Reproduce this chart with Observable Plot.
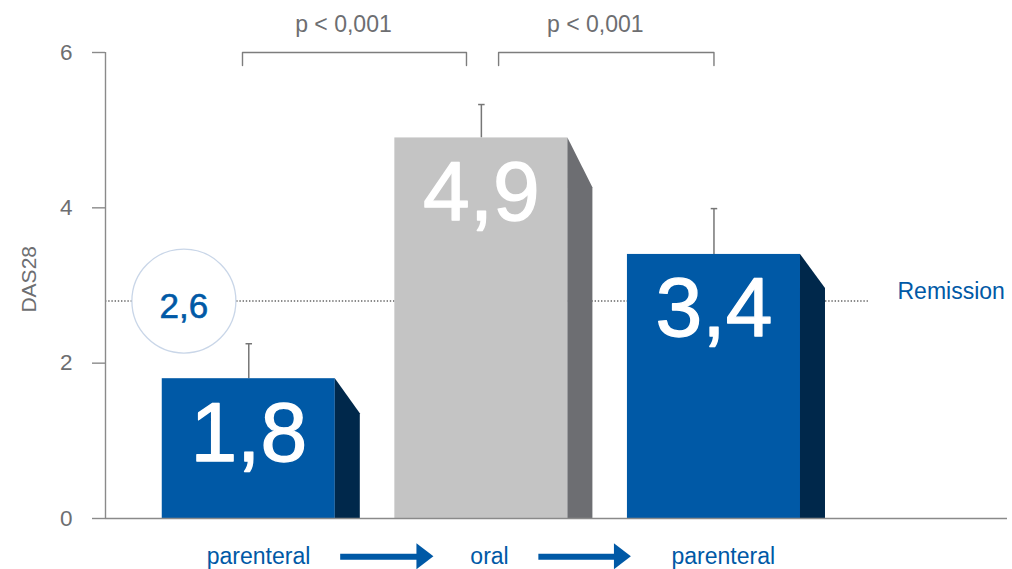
<!DOCTYPE html>
<html>
<head>
<meta charset="utf-8">
<script src="https://cdn.jsdelivr.net/npm/d3@7"></script>
<script src="https://cdn.jsdelivr.net/npm/@observablehq/plot@0.6"></script>
<style>
  html, body { margin: 0; padding: 0; background: #ffffff; }
  #chart { width: 1012px; height: 569px; }
</style>
</head>
<body>
<div id="chart"></div>
<script>
// ---- data ----
const treatments = ["parenteral", "oral", "parenteral"];
const das28 = [1.8, 4.9, 3.4];
const valueLabels = ["1,8", "4,9", "3,4"];
const errorTop = [2.25, 5.33, 3.99];
const sideDrop = [0.45, 0.64, 0.44];           // drop of the 3D side face, in DAS28 units
const frontColors = ["#0059a6", "#c4c4c4", "#0059a6"];
const sideColors = ["#00284b", "#6d6e72", "#00284b"];
const yTicks = [0, 2, 4, 6];
const remissionLabel = "2,6";
const remissionLineY = 2.8;
const remissionText = "Remission";
const pLabels = ["p < 0,001", "p < 0,001"];
const pLabelX = [0.407, 1.49];
const bracketFrom = [-0.027, 1.074];
const bracketTo = [0.936, 2.0];
const bracketTop = 6;
const bracketFoot = 5.833;
const treatmentLabelX = [0.042, 1.035, 2.04];
const arrowStart = [0.393, 1.245];
const arrowHeadBase = [0.723, 1.572];
const arrowTip = [0.796, 1.645];
const arrowY = -0.493;
const arrowHalfHead = 0.167;

// ---- layout helpers ----
const xDomain = [-0.616, 3.262];
const halfWidth = 0.372;
const depth = 0.1075;
const blue = "#0059a6";
const grey = "#6d6e71";
const font = "'Liberation Sans', Arial, Helvetica, sans-serif";

const bars = das28.map((v, i) => ({
  i, v, x1: i - halfWidth, x2: i + halfWidth,
  front: frontColors[i], label: valueLabels[i], err: errorTop[i]
}));
const sides = bars.flatMap(b => [
  {k: b.i, x: b.x2, y1: 0, y2: b.v, c: sideColors[b.i]},
  {k: b.i, x: b.x2 + depth, y1: 0, y2: b.v - sideDrop[b.i], c: sideColors[b.i]}
]);
const brackets = bracketFrom.flatMap((a, j) => [
  {k: j, x: a, y: bracketFoot}, {k: j, x: a, y: bracketTop},
  {k: j, x: bracketTo[j], y: bracketTop}, {k: j, x: bracketTo[j], y: bracketFoot}
]);
const shafts = arrowStart.map((s, j) => ({x1: s, x2: arrowHeadBase[j] + 0.01, y: arrowY}));
const heads = arrowStart.flatMap((s, j) => [
  {k: j, x: arrowHeadBase[j], y1: arrowY - arrowHalfHead, y2: arrowY + arrowHalfHead},
  {k: j, x: arrowTip[j], y1: arrowY, y2: arrowY}
]);
const treatmentRows = treatments.map((t, i) => ({t, x: treatmentLabelX[i]}));
const pRows = pLabels.map((p, j) => ({p, x: pLabelX[j]}));
const circlePos = [{x: -0.279, y: remissionLineY}];

const chart = Plot.plot({
  width: 1012,
  height: 569,
  marginLeft: 105,
  marginRight: 5,
  marginTop: 52,
  marginBottom: 51,
  style: {fontFamily: font, background: "#ffffff", overflow: "visible"},
  x: {domain: xDomain, axis: null},
  y: {domain: [0, 6], axis: null},
  color: {type: "identity"},
  marks: [
    // remission dotted line
    Plot.ruleY([remissionLineY], {x1: xDomain[0], x2: 2.664, stroke: "#666666", strokeWidth: 1.5, strokeDasharray: "1.4,1.8"}),
    // y axis
    Plot.ruleX([xDomain[0]], {y1: 0, y2: 6, stroke: "#8a8a8a", strokeWidth: 1.4}),
    Plot.axisY(yTicks, {tickSize: 13, tickPadding: 20, fontSize: 22.5, color: grey, stroke: "#8a8a8a", strokeWidth: 1.4, label: null, tickFormat: d => String(d)}),
    Plot.text(["DAS28"], {x: xDomain[0], y: 3.08, dx: -76, rotate: -90, fontSize: 21, fill: grey}),
    // error bars
    Plot.ruleX(bars, {x: "i", y1: "v", y2: "err", stroke: "#767676", strokeWidth: 1.5}),
    Plot.link(bars, {x1: d => d.i - 0.014, x2: d => d.i + 0.014, y1: "err", y2: "err", stroke: "#767676", strokeWidth: 1.5}),
    // bars
    Plot.rect(bars, {x1: "x1", x2: "x2", y1: 0, y2: "v", fill: "front"}),
    Plot.area(sides, {x1: "x", y1: "y1", y2: "y2", z: "k", fill: "c"}),
    Plot.text(bars, {x: "i", y: "v", text: "label", dy: 82, lineAnchor: "bottom", fontSize: 84, fill: "#ffffff", stroke: "#ffffff", strokeWidth: 1.3}),
    // baseline
    Plot.ruleY([0], {x1: xDomain[0], x2: xDomain[1], stroke: "#8a8a8a", strokeWidth: 1.6}),
    // remission circle
    Plot.dot(circlePos, {x: "x", y: "y", r: 52, fill: "#ffffff", stroke: "#c9d6e8", strokeWidth: 1.3}),
    Plot.text(circlePos, {x: "x", y: "y", text: () => remissionLabel, dy: 17, lineAnchor: "bottom", fontSize: 35, fill: blue, stroke: blue, strokeWidth: 0.6}),
    Plot.text([remissionText], {x: 2.789, y: remissionLineY, dy: -2, lineAnchor: "bottom", textAnchor: "start", fontSize: 23, fill: blue}),
    // significance brackets
    Plot.line(brackets, {x: "x", y: "y", z: "k", stroke: "#7d7d7d", strokeWidth: 1.4}),
    Plot.text(pRows, {x: "x", y: bracketTop, text: "p", dy: -21, lineAnchor: "bottom", fontSize: 23, fill: grey}),
    // treatment labels and arrows
    Plot.text(treatmentRows, {x: "x", y: 0, text: "t", dy: 45, lineAnchor: "bottom", fontSize: 23, fill: blue}),
    Plot.link(shafts, {x1: "x1", x2: "x2", y1: "y", y2: "y", stroke: blue, strokeWidth: 6}),
    Plot.area(heads, {x1: "x", y1: "y1", y2: "y2", z: "k", fill: blue})
  ]
});
document.getElementById("chart").appendChild(chart);
</script>
</body>
</html>
